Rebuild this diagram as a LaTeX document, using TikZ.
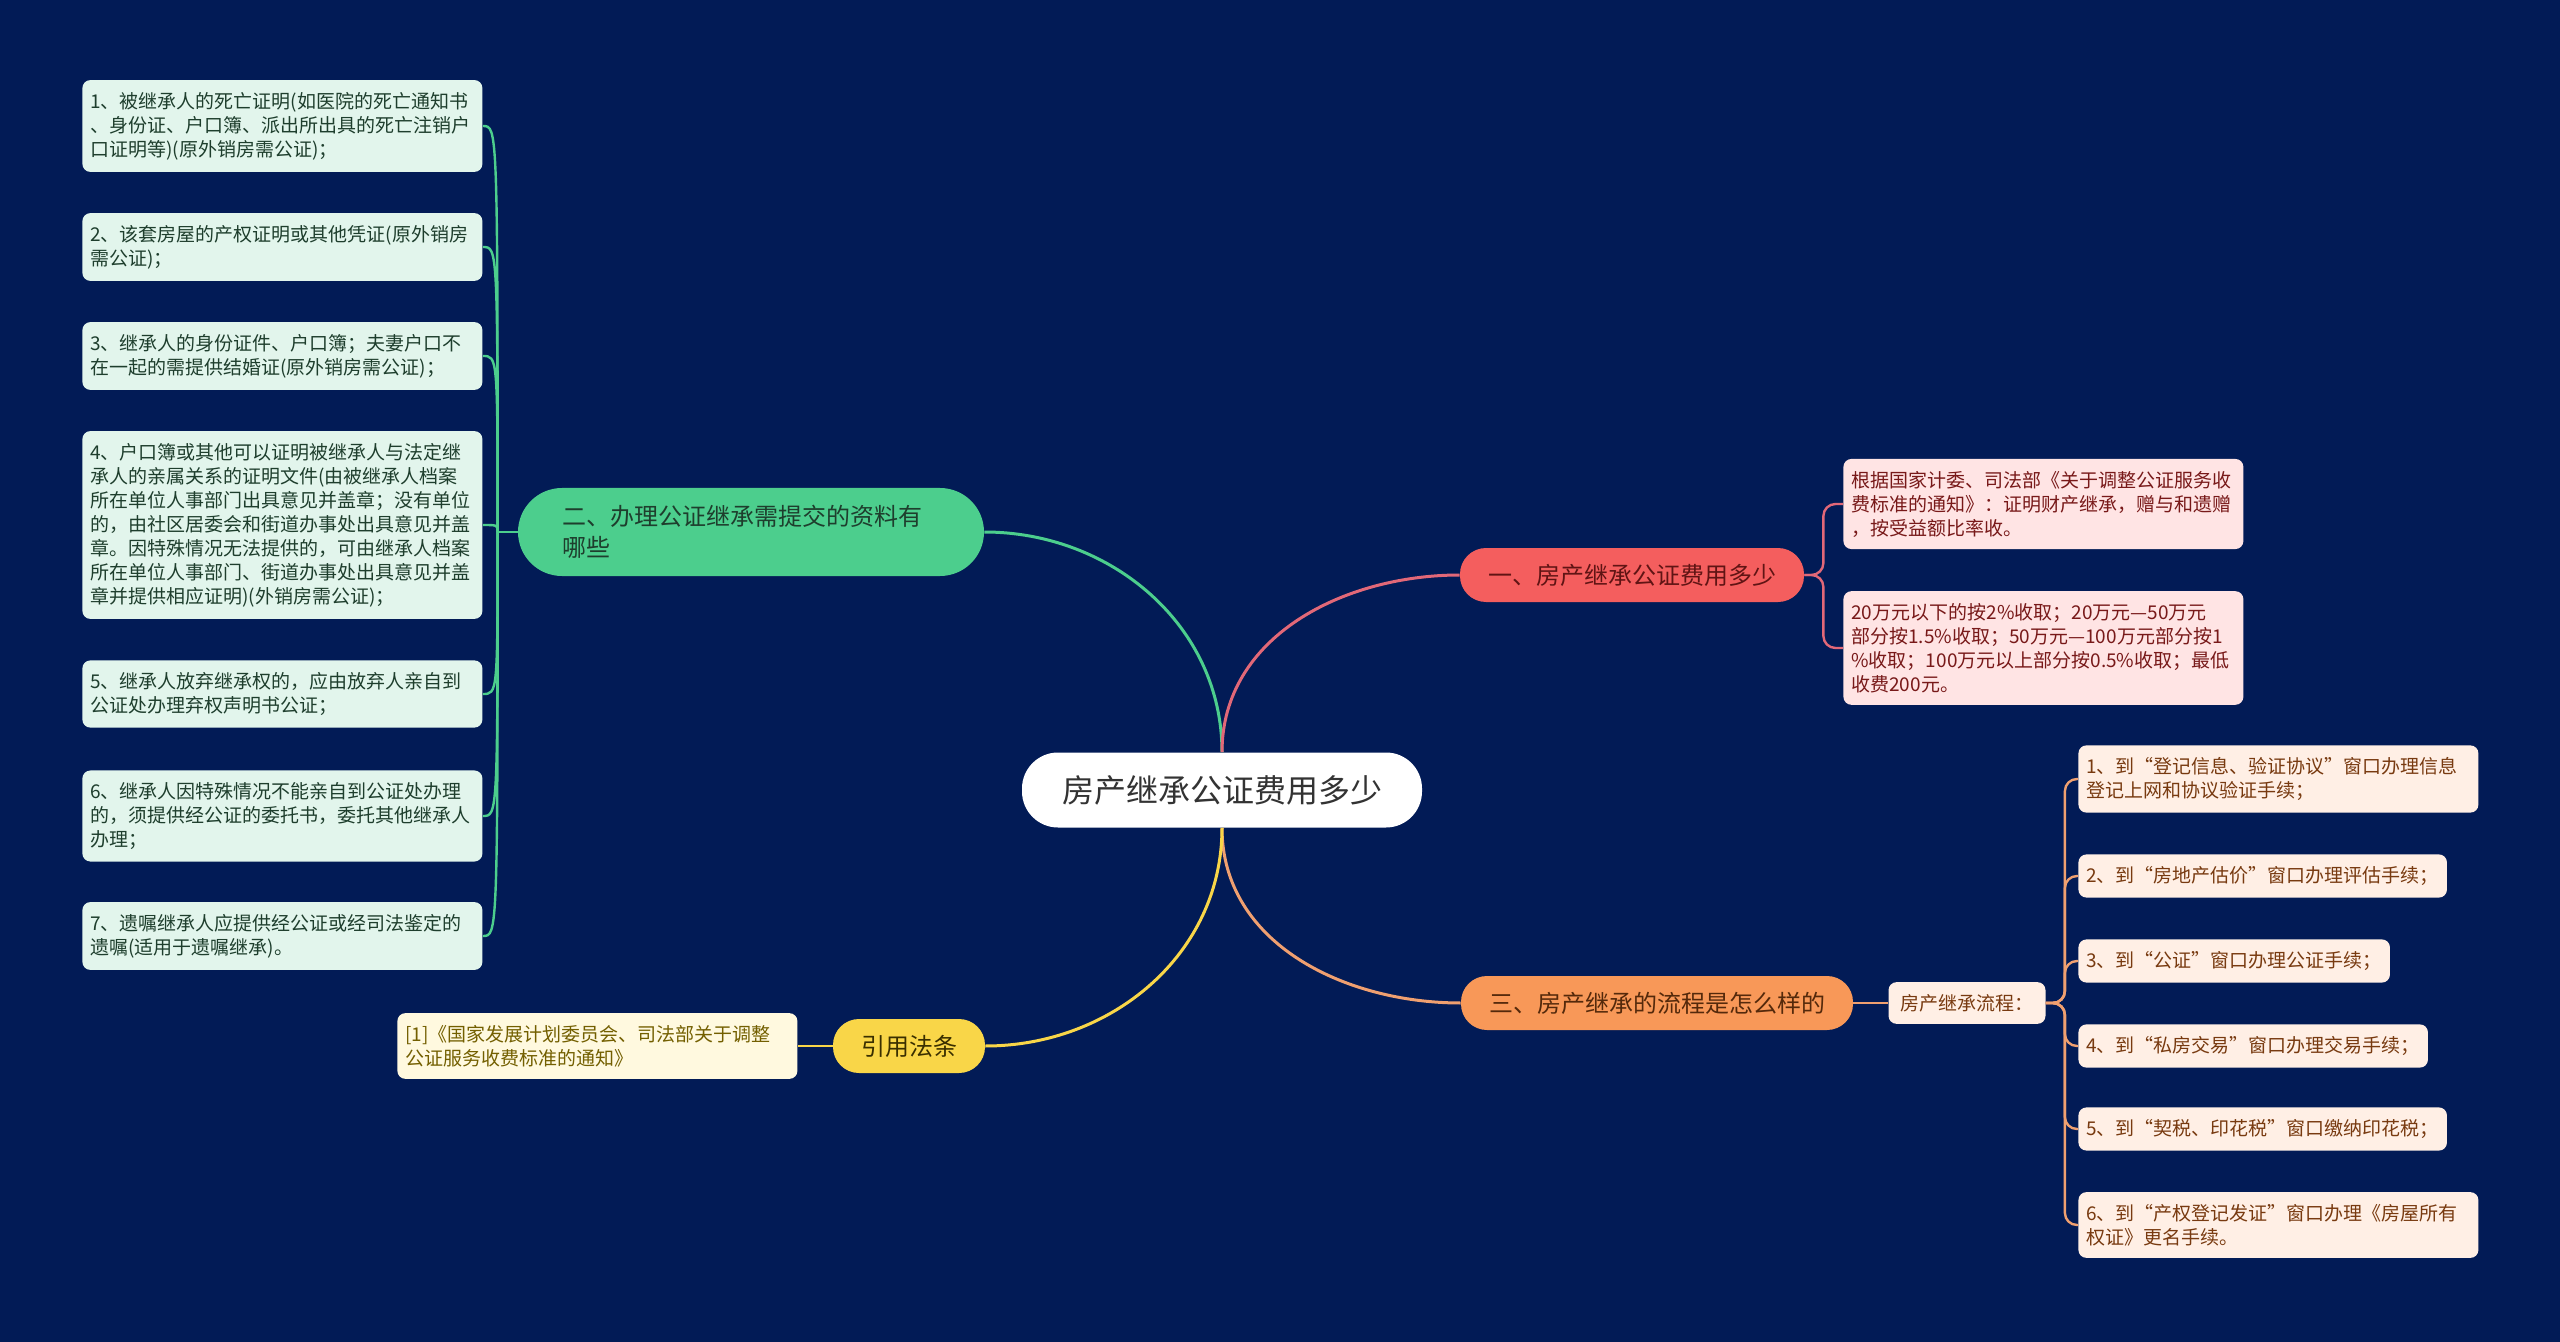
\documentclass[tikz,border=0pt]{standalone}
\usepackage{fontspec}
\setmainfont{Noto Sans CJK SC}
\usepackage{tikz}
\usetikzlibrary{calc}

\definecolor{bgnavy}{RGB}{2,27,86}
\definecolor{gmain}{RGB}{76,206,141}
\definecolor{gleaf}{RGB}{226,245,236}
\definecolor{gtext}{RGB}{30,62,45}
\definecolor{rmain}{RGB}{244,94,94}
\definecolor{rleaf}{RGB}{255,228,228}
\definecolor{rtext}{RGB}{120,25,25}
\definecolor{rlink}{RGB}{226,104,120}
\definecolor{omain}{RGB}{248,152,88}
\definecolor{oleaf}{RGB}{255,239,229}
\definecolor{otext}{RGB}{120,58,16}
\definecolor{olink}{RGB}{240,160,112}
\definecolor{ymain}{RGB}{249,214,72}
\definecolor{yleaf}{RGB}{255,249,223}
\definecolor{ytext}{RGB}{115,95,0}

\begin{document}
\begin{tikzpicture}[x=0.5pt, y=-0.5pt,
		centre/.style={fill=white, rounded corners=18pt, minimum width=200pt, minimum height=37.5pt, text=black!80, font=\fontsize{16}{20}\selectfont},
		branch/.style={rounded corners=13pt, minimum height=27pt, inner xsep=14pt, font=\fontsize{12}{15.5}\selectfont},
		leaf/.style={rounded corners=4pt, inner xsep=4pt, inner ysep=6pt, align=left, font=\fontsize{9.5}{12}\selectfont},
		wide/.style={text width=192pt},
		link/.style={line width=1.5pt},
		twig/.style={line width=1.2pt}]

		\fill[bgnavy] (0,0) rectangle (2560,1342);

		% Centre
		\node[centre] (C) at (1222, 790) {房产继承公证费用多少};

		% Branches
		\node[branch, fill=gmain, text=gtext, text width=189pt, inner xsep=22pt, minimum height=44pt, rounded corners=22pt, align=left] (G) at (751, 532) {二、办理公证继承需提交的资料有\\哪些};
		\node[branch, fill=rmain, text=rtext!80!black] (R) at (1632, 575) {一、房产继承公证费用多少};
		\node[branch, fill=omain, text=otext!70!black] (O) at (1657, 1003) {三、房产继承的流程是怎么样的};
		\node[branch, fill=ymain, text=ytext!50!black] (Y) at (909, 1046) {引用法条};

		% Green leaves
		\node[leaf, wide, fill=gleaf, text=gtext, anchor=west] (G1) at (82, 126) {1、被继承人的死亡证明(如医院的死亡通知书\\、身份证、户口簿、派出所出具的死亡注销户\\口证明等)(原外销房需公证)；};
		\node[leaf, wide, fill=gleaf, text=gtext, anchor=west] (G2) at (82, 247) {2、该套房屋的产权证明或其他凭证(原外销房\\需公证)；};
		\node[leaf, wide, fill=gleaf, text=gtext, anchor=west] (G3) at (82, 356) {3、继承人的身份证件、户口簿；夫妻户口不\\在一起的需提供结婚证(原外销房需公证)；};
		\node[leaf, wide, fill=gleaf, text=gtext, anchor=west] (G4) at (82, 525) {4、户口簿或其他可以证明被继承人与法定继\\承人的亲属关系的证明文件(由被继承人档案\\所在单位人事部门出具意见并盖章；没有单位\\的，由社区居委会和街道办事处出具意见并盖\\章。因特殊情况无法提供的，可由继承人档案\\所在单位人事部门、街道办事处出具意见并盖\\章并提供相应证明)(外销房需公证)；};
		\node[leaf, wide, fill=gleaf, text=gtext, anchor=west] (G5) at (82, 694) {5、继承人放弃继承权的，应由放弃人亲自到\\公证处办理弃权声明书公证；};
		\node[leaf, wide, fill=gleaf, text=gtext, anchor=west] (G6) at (82, 816) {6、继承人因特殊情况不能亲自到公证处办理\\的，须提供经公证的委托书，委托其他继承人\\办理；};
		\node[leaf, wide, fill=gleaf, text=gtext, anchor=west] (G7) at (82, 936) {7、遗嘱继承人应提供经公证或经司法鉴定的\\遗嘱(适用于遗嘱继承)。};

		% Red leaves
		\node[leaf, wide, fill=rleaf, text=rtext, anchor=west] (R1) at (1843, 504) {根据国家计委、司法部《关于调整公证服务收\\费标准的通知》：证明财产继承，赠与和遗赠\\，按受益额比率收。};
		\node[leaf, wide, fill=rleaf, text=rtext, anchor=west] (R2) at (1843, 648) {20万元以下的按2\%收取；20万元—50万元\\部分按1.5\%收取；50万元—100万元部分按1\\\%收取；100万元以上部分按0.5\%收取；最低\\收费200元。};

		% Orange leaves
		\node[leaf, fill=oleaf, text=otext, inner xsep=6pt] (P) at (1967, 1003) {房产继承流程：};
		\node[leaf, wide, fill=oleaf, text=otext, anchor=west] (O1) at (2078, 779) {1、到“登记信息、验证协议”窗口办理信息\\登记上网和协议验证手续；};
		\node[leaf, fill=oleaf, text=otext, anchor=west] (O2) at (2078, 876) {2、到“房地产估价”窗口办理评估手续；};
		\node[leaf, fill=oleaf, text=otext, anchor=west] (O3) at (2078, 961) {3、到“公证”窗口办理公证手续；};
		\node[leaf, fill=oleaf, text=otext, anchor=west] (O4) at (2078, 1046) {4、到“私房交易”窗口办理交易手续；};
		\node[leaf, fill=oleaf, text=otext, anchor=west] (O5) at (2078, 1129) {5、到“契税、印花税”窗口缴纳印花税；};
		\node[leaf, wide, fill=oleaf, text=otext, anchor=west] (O6) at (2078, 1225) {6、到“产权登记发证”窗口办理《房屋所有\\权证》更名手续。};

		% Yellow leaf
		\node[leaf, wide, fill=yleaf, text=ytext, anchor=west] (Y1) at (397, 1046) {[1]《国家发展计划委员会、司法部关于调整\\公证服务收费标准的通知》};

		% --- Connections ---

		% Centre to branches
		\draw[link, gmain] (C.north) to[out=90, in=0] (G.east);
		\draw[link, rlink] (C.north) to[out=90, in=180] (R.west);
		\draw[link, olink] (C.south) to[out=-90, in=180] (O.west);
		\draw[link, ymain] (C.south) to[out=-90, in=0] (Y.east);

		% Green fan
		\coordinate (GT) at ([xshift=-10pt] G.west);
		\draw[twig, gmain] (G.west) -- (GT);
		\foreach \i in {1,...,7} {
				\draw[twig, gmain] (GT) .. controls (GT |- G\i.east) .. (G\i.east);
			}

		% Red fan
		\coordinate (RT) at ([xshift=9.5pt] R.east);
		\foreach \i in {1,2} {
				\draw[twig, rlink, rounded corners=6pt] (R.east) -- (RT) |- (R\i.west);
			}

		% Orange fan
		\draw[twig, olink] (O.east) -- (P.west);
		\coordinate (PT) at ([xshift=9.5pt] P.east);
		\foreach \i in {1,...,6} {
				\draw[twig, olink, rounded corners=6pt] (P.east) -- (PT) |- (O\i.west);
			}

		% Yellow
		\draw[twig, ymain] (Y.west) -- (Y1.east);

	\end{tikzpicture}
\end{document}
